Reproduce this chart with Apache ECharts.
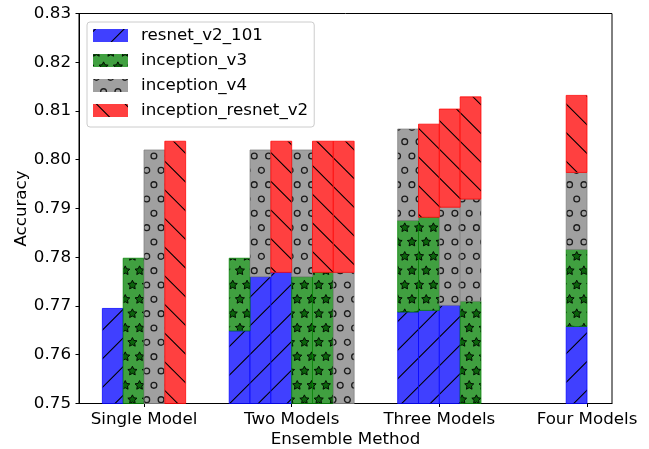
<!DOCTYPE html>
<html><head><meta charset="utf-8">
<script src="https://cdn.jsdelivr.net/npm/echarts@6/dist/echarts.min.js"></script>
<style>html,body{margin:0;padding:0;background:#fff}#c{width:649px;height:449px}</style>
</head><body><div id="c"></div><script>
// ---------------- data ----------------
const categories = ['Single Model', 'Two Models', 'Three Models', 'Four Models'];
const models = ['resnet_v2_101', 'inception_v3', 'inception_v4', 'inception_resnet_v2'];
const singleMembers = [[0], [1], [2], [3]];
const singleAcc = [0.7695, 0.7798, 0.8020, 0.8038];
const twoMembers = [[0, 1], [0, 2], [0, 3], [1, 2], [1, 3], [2, 3]];
const twoAcc = [0.7798, 0.8020, 0.8038, 0.8020, 0.8038, 0.8038];
const threeMembers = [[0, 1, 2], [0, 1, 3], [0, 2, 3], [1, 2, 3]];
const threeAcc = [0.8063, 0.8073, 0.8104, 0.8129];
const fourMembers = [[0, 1, 2, 3]];
const fourAcc = [0.8132];
const yMin = 0.75, yMax = 0.83, yStep = 0.01;

// ---------------- layout / style ----------------
const BAR_W = 0.141;
const slotStart = [-2, -3, -2, -1];
const X_MIN = -0.4402, X_MAX = 3.1692;
const FONT = 'DejaVu Sans', FS = 16.7;
const faces = ['#4040ff', '#40a040', '#a0a0a0', '#ff4040'];
const edges = ['rgba(0,0,255,0.75)', 'rgba(0,128,0,0.75)', 'rgba(128,128,128,0.75)', 'rgba(255,0,0,0.75)'];
const hatches = ['/', '*', 'o', '\\'];

const P = 86, S = P / 6;
function makeTile(face, kind) {
  const c = document.createElement('canvas'); c.width = P; c.height = P;
  const g = c.getContext('2d');
  g.fillStyle = face; g.fillRect(0, 0, P, P);
  g.strokeStyle = '#000'; g.lineWidth = 1.1;
  if (kind === '/') {
    g.beginPath();
    for (let k = -3; k <= 9; k++) { const cc = 2.5 + k * 2 * S; g.moveTo(cc + 20, -20); g.lineTo(cc - P - 20, P + 20); }
    g.stroke();
  } else if (kind === '\\') {
    g.beginPath();
    for (let k = -6; k <= 6; k++) { const cc = 3.5 + k * 2 * S; g.moveTo(cc - 20, -20); g.lineTo(cc + P + 20, P + 20); }
    g.stroke();
  } else {
    const Y0 = 27 - 2 * S, X0 = 3.4;
    for (let j = -2; j <= 8; j++) {
      const y = Y0 + j * S;
      const off = (Math.abs(j) % 2 === 1) ? S / 2 : 0;
      for (let i = -1; i <= 7; i++) {
        const x = X0 + off + i * S;
        g.beginPath();
        if (kind === 'o') {
          g.arc(x, y, 2.9, 0, Math.PI * 2);
          g.strokeStyle = '#1c1c1c'; g.lineWidth = 1.3; g.stroke();
        } else {
          for (let t = 0; t < 10; t++) {
            const a = -Math.PI / 2 + t * Math.PI / 5, r = (t % 2 === 0) ? 4.8 : 2.4;
            const px = x + r * Math.cos(a), py = y + r * Math.sin(a);
            if (t === 0) g.moveTo(px, py); else g.lineTo(px, py);
          }
          g.closePath();
          g.fillStyle = '#0c640c'; g.fill();
          g.strokeStyle = '#000'; g.lineWidth = 0.9; g.stroke();
        }
      }
    }
  }
  return c;
}
const patterns = faces.map((f, i) => ({ image: makeTile(f, hatches[i]), repeat: 'repeat' }));

// build segments per model
const groups = [
  [singleMembers, singleAcc], [twoMembers, twoAcc], [threeMembers, threeAcc], [fourMembers, fourAcc]
];
const segs = models.map(() => []);
groups.forEach(([mem, acc], gi) => {
  mem.forEach((m, ci) => {
    const x = gi + (slotStart[gi] + ci + 0.5) * BAR_W;
    const n = m.length, a = acc[ci];
    m.forEach((model, k) => {
      segs[model].push([x, yMin + (a - yMin) * k / n, yMin + (a - yMin) * (k + 1) / n]);
    });
  });
});

const series = models.map((name, mi) => ({
  type: 'custom', name: name,
  itemStyle: { color: patterns[mi], borderWidth: 0 },
  encode: { x: 0, y: [1, 2] },
  data: segs[mi],
  renderItem: function (params, api) {
    const x = api.value(0), y0 = api.value(1), y1 = api.value(2);
    const p0 = api.coord([x - BAR_W / 2, y1]);
    const p1 = api.coord([x + BAR_W / 2, y0]);
    return {
      type: 'rect',
      shape: { x: p0[0], y: p0[1], width: p1[0] - p0[0], height: p1[1] - p0[1] },
      style: { fill: patterns[mi], stroke: edges[mi], lineWidth: 1 }
    };
  }
}));

const chart = echarts.init(document.getElementById('c'), null, { renderer: 'canvas' });
const txt = { fontFamily: FONT, fontSize: FS, color: '#000' };
chart.setOption({
  animation: false,
  backgroundColor: '#fff',
  grid: { left: 79, right: 37, top: 13.5, bottom: 45.5, outerBoundsMode: 'none', containLabel: false, show: true, borderColor: '#000', borderWidth: 1, backgroundColor: 'transparent' },
  xAxis: {
    type: 'value', min: X_MIN, max: X_MAX,
    splitLine: { show: false },
    axisLine: { show: true, onZero: false, lineStyle: { color: '#000', width: 1 } },
    axisTick: { show: true, inside: false, length: 3.5, customValues: [0, 1, 2, 3], lineStyle: { color: '#000' } },
    axisLabel: Object.assign({ customValues: [0, 1, 2, 3], formatter: v => categories[Math.round(v)], margin: 7.5 }, txt),
    name: 'Ensemble Method', nameLocation: 'middle', nameGap: 28, nameMoveOverlap: false,
    nameTextStyle: Object.assign({ lineHeight: 17 }, txt)
  },
  yAxis: {
    type: 'value', min: yMin, max: yMax, interval: yStep,
    splitLine: { show: false },
    axisLine: { show: true, onZero: false, lineStyle: { color: '#000', width: 1 } },
    axisTick: { show: true, inside: false, length: 3.5, lineStyle: { color: '#000' } },
    axisLabel: Object.assign({ formatter: v => v.toFixed(2), margin: 8 }, txt),
    name: 'Accuracy', nameLocation: 'middle', nameGap: 49, nameMoveOverlap: false, nameTextStyle: txt
  },
  legend: {
    orient: 'vertical', left: 87, top: 22, padding: [5, 6, 8, 6], itemGap: 8,
    itemWidth: 35, itemHeight: 13, icon: 'rect',
    itemStyle: { borderWidth: 0 },
    backgroundColor: 'rgba(255,255,255,0.8)', borderColor: '#cccccc', borderWidth: 1, borderRadius: 3,
    textStyle: { fontFamily: FONT, fontSize: FS, color: '#000', padding: [0, 0, 0, 8], lineHeight: 17 },
    data: models
  },
  series: series
});
</script></body></html>
